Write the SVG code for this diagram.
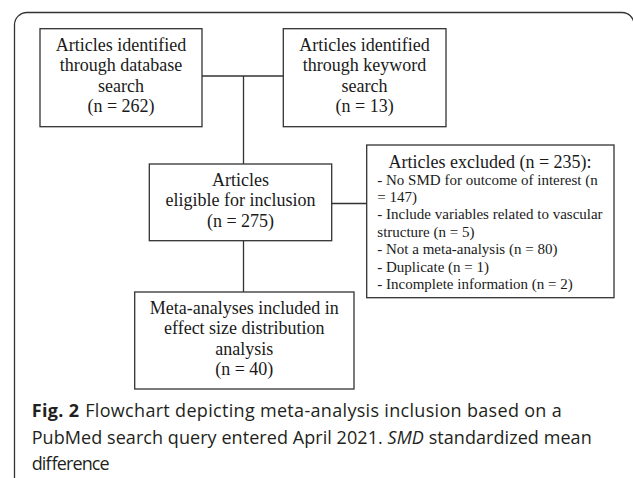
<svg xmlns="http://www.w3.org/2000/svg" width="633" height="478" viewBox="0 0 633 478">
<style>
.box{fill:#fff;stroke:#333;stroke-width:1.3}
.conn{fill:none;stroke:#333;stroke-width:1.3}
.t{font-family:"Liberation Serif","Times New Roman",serif;font-size:18px;fill:#1a1a1a;text-anchor:middle}
.l{font-family:"Liberation Serif","Times New Roman",serif;font-size:15px;fill:#1a1a1a}
.cap{font-family:"Open Sans","Noto Sans",sans-serif;font-size:18px;fill:#231f20}
</style>
<rect width="633" height="478" fill="#fff"/>
<path d="M14.5,478 V25 A12.5,12.5 0 0 1 27,12.5 H622 A12,12 0 0 1 634,24.5 V478" fill="none" stroke="#333" stroke-width="1.3"/>
<g id="connectors">
<path class="conn" d="M202,76 H283"/>
<path class="conn" d="M243.5,76 V164"/>
<path class="conn" d="M243.5,240.7 V292"/>
<path class="conn" d="M331.7,203.5 H366.7"/>
</g>
<g id="n1">
<rect class="box" x="40" y="28.7" width="162" height="98"/>
<text class="t" x="121" y="50.7">Articles identified</text>
<text class="t" x="121" y="71.1">through database</text>
<text class="t" x="121" y="91.5">search</text>
<text class="t" x="121" y="111.9">(n = 262)</text>
</g>
<g id="n2">
<rect class="box" x="283.3" y="28.7" width="162.7" height="98"/>
<text class="t" x="364.6" y="50.7">Articles identified</text>
<text class="t" x="364.6" y="71.1">through keyword</text>
<text class="t" x="364.6" y="91.5">search</text>
<text class="t" x="364.6" y="111.9">(n = 13)</text>
</g>
<g id="n3">
<rect class="box" x="149.3" y="164" width="182.4" height="76.7"/>
<text class="t" x="240.5" y="185.5">Articles</text>
<text class="t" x="240.5" y="206">eligible for inclusion</text>
<text class="t" x="240.5" y="226.5">(n = 275)</text>
</g>
<g id="n4">
<rect class="box" x="366.7" y="145" width="247.3" height="152.7"/>
<text class="t" x="490" y="167.5">Articles excluded (n = 235):</text>
<text class="l" x="377.3" y="184.5">- No SMD for outcome of interest (n</text>
<text class="l" x="377.3" y="201.8">= 147)</text>
<text class="l" x="377.3" y="219.2">- Include variables related to vascular</text>
<text class="l" x="377.3" y="236.6">structure (n = 5)</text>
<text class="l" x="377.3" y="254">- Not a meta-analysis (n = 80)</text>
<text class="l" x="377.3" y="271.5">- Duplicate (n = 1)</text>
<text class="l" x="377.3" y="289">- Incomplete information (n = 2)</text>
</g>
<g id="n5">
<rect class="box" x="134.7" y="292" width="219.3" height="97"/>
<text class="t" x="244.3" y="314">Meta-analyses included in</text>
<text class="t" x="244.3" y="334.4">effect size distribution</text>
<text class="t" x="244.3" y="354.8">analysis</text>
<text class="t" x="244.3" y="375.2">(n = 40)</text>
</g>
<g id="caption">
<text class="cap" x="31.7" y="417" textLength="530" lengthAdjust="spacing"><tspan font-weight="bold">Fig. 2</tspan><tspan dx="6">Flowchart depicting meta-analysis inclusion based on a</tspan></text>
<text class="cap" x="31.7" y="444" textLength="560" lengthAdjust="spacing">PubMed search query entered April 2021. <tspan font-style="italic">SMD</tspan> standardized mean</text>
<text class="cap" x="31.7" y="470" textLength="78" lengthAdjust="spacing">difference</text>
</g>
</svg>
